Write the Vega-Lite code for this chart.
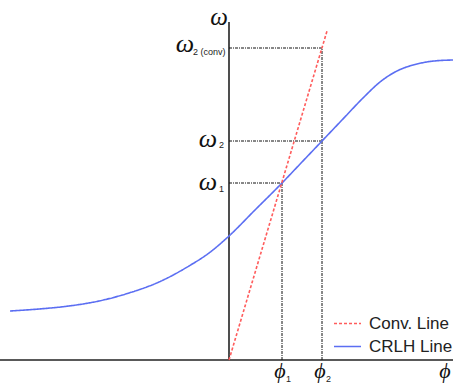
{
  "$schema": "https://vega.github.io/schema/vega-lite/v6.json",
  "width": 453,
  "height": 385,
  "autosize": {"type": "none"},
  "padding": 0,
  "background": "white",
  "config": {"view": {"stroke": null}},
  "datasets": {
    "curves": [
      {"series": "CRLH Line", "phi": -219, "omega": 49},
      {"series": "CRLH Line", "phi": -190, "omega": 51},
      {"series": "CRLH Line", "phi": -160, "omega": 54},
      {"series": "CRLH Line", "phi": -130, "omega": 59},
      {"series": "CRLH Line", "phi": -100, "omega": 67},
      {"series": "CRLH Line", "phi": -70, "omega": 78},
      {"series": "CRLH Line", "phi": -40, "omega": 94},
      {"series": "CRLH Line", "phi": -20, "omega": 107},
      {"series": "CRLH Line", "phi": 0, "omega": 124},
      {"series": "CRLH Line", "phi": 25, "omega": 149},
      {"series": "CRLH Line", "phi": 53, "omega": 177},
      {"series": "CRLH Line", "phi": 73, "omega": 198},
      {"series": "CRLH Line", "phi": 93, "omega": 219},
      {"series": "CRLH Line", "phi": 113, "omega": 240},
      {"series": "CRLH Line", "phi": 134, "omega": 262},
      {"series": "CRLH Line", "phi": 151, "omega": 278},
      {"series": "CRLH Line", "phi": 168, "omega": 289},
      {"series": "CRLH Line", "phi": 188, "omega": 296},
      {"series": "CRLH Line", "phi": 205, "omega": 299},
      {"series": "CRLH Line", "phi": 224, "omega": 300},
      {"series": "Conv. Line", "phi": 0, "omega": 0},
      {"series": "Conv. Line", "phi": 98, "omega": 329}
    ],
    "guides": [
      {"phi": 0, "phi2": 93, "omega": 312, "omega2": 312},
      {"phi": 0, "phi2": 93, "omega": 219, "omega2": 219},
      {"phi": 0, "phi2": 53, "omega": 177, "omega2": 177},
      {"phi": 53, "phi2": 53, "omega": 0, "omega2": 177},
      {"phi": 93, "phi2": 93, "omega": 0, "omega2": 312}
    ],
    "axes": [
      {"phi": -229, "phi2": 224, "omega": 0, "omega2": 0},
      {"phi": 0, "phi2": 0, "omega": 0, "omega2": 338}
    ],
    "topglyph": [
      {"t": "ω", "phi": -10, "omega": 335}
    ],
    "glyphs": [
      {"t": "ω", "phi": -44, "omega": 308},
      {"t": "ω", "phi": -21, "omega": 213},
      {"t": "ω", "phi": -21, "omega": 170}
    ],
    "phis": [
      {"t": "ϕ", "phi": 51, "omega": -18},
      {"t": "ϕ", "phi": 91, "omega": -18},
      {"t": "ϕ", "phi": 216, "omega": -18}
    ],
    "subs": [
      {"t": "2 (conv)", "phi": -36, "omega": 305},
      {"t": "2", "phi": -10, "omega": 212},
      {"t": "1", "phi": -10, "omega": 168},
      {"t": "1", "phi": 57, "omega": -22},
      {"t": "2", "phi": 97, "omega": -22}
    ]
  },
  "layer": [
    {
      "data": {"name": "axes"},
      "mark": {"type": "rule", "color": "#222222", "strokeWidth": 1.6},
      "encoding": {
        "x": {"field": "phi", "type": "quantitative", "scale": {"domain": [-229, 224], "nice": false, "zero": false}, "axis": null},
        "x2": {"field": "phi2"},
        "y": {"field": "omega", "type": "quantitative", "scale": {"domain": [-25, 360], "nice": false, "zero": false}, "axis": null},
        "y2": {"field": "omega2"}
      }
    },
    {
      "data": {"name": "guides"},
      "mark": {"type": "rule", "color": "#111111", "strokeWidth": 1, "strokeDash": [3, 1, 1, 1]},
      "encoding": {
        "x": {"field": "phi", "type": "quantitative"},
        "x2": {"field": "phi2"},
        "y": {"field": "omega", "type": "quantitative"},
        "y2": {"field": "omega2"}
      }
    },
    {
      "data": {"name": "curves"},
      "mark": {"type": "line", "interpolate": "monotone", "strokeWidth": 1.6},
      "encoding": {
        "x": {"field": "phi", "type": "quantitative"},
        "y": {"field": "omega", "type": "quantitative"},
        "color": {
          "field": "series", "type": "nominal",
          "scale": {"domain": ["Conv. Line", "CRLH Line"], "range": ["#ff5c5c", "#5b6ef2"]},
          "legend": {
            "title": null, "orient": "none", "legendX": 333, "legendY": 309,
            "symbolType": "stroke", "symbolSize": 729, "symbolStrokeWidth": 1.6,
            "labelFont": "Liberation Sans", "labelFontSize": 17, "labelColor": "#222222",
            "labelOffset": 7, "rowPadding": 0, "padding": 0
          }
        },
        "strokeDash": {
          "field": "series", "type": "nominal",
          "scale": {"domain": ["Conv. Line", "CRLH Line"], "range": [[3, 2], [1, 0]]},
          "legend": null
        }
      }
    },
    {
      "data": {"name": "topglyph"},
      "mark": {"type": "text", "font": "Liberation Serif", "fontStyle": "italic", "fontSize": 25, "align": "center", "baseline": "alphabetic", "color": "#111111"},
      "encoding": {
        "x": {"field": "phi", "type": "quantitative"},
        "y": {"field": "omega", "type": "quantitative"},
        "text": {"field": "t"}
      }
    },
    {
      "data": {"name": "glyphs"},
      "mark": {"type": "text", "font": "Liberation Serif", "fontStyle": "italic", "fontSize": 26, "align": "center", "baseline": "alphabetic", "color": "#111111"},
      "encoding": {
        "x": {"field": "phi", "type": "quantitative"},
        "y": {"field": "omega", "type": "quantitative"},
        "text": {"field": "t"}
      }
    },
    {
      "data": {"name": "phis"},
      "mark": {"type": "text", "font": "Liberation Serif", "fontStyle": "italic", "fontSize": 22, "align": "center", "baseline": "alphabetic", "color": "#111111"},
      "encoding": {
        "x": {"field": "phi", "type": "quantitative"},
        "y": {"field": "omega", "type": "quantitative"},
        "text": {"field": "t"}
      }
    },
    {
      "data": {"name": "subs"},
      "mark": {"type": "text", "font": "Liberation Sans", "fontSize": 9, "align": "left", "baseline": "alphabetic", "color": "#222222"},
      "encoding": {
        "x": {"field": "phi", "type": "quantitative"},
        "y": {"field": "omega", "type": "quantitative"},
        "text": {"field": "t"}
      }
    }
  ]
}
